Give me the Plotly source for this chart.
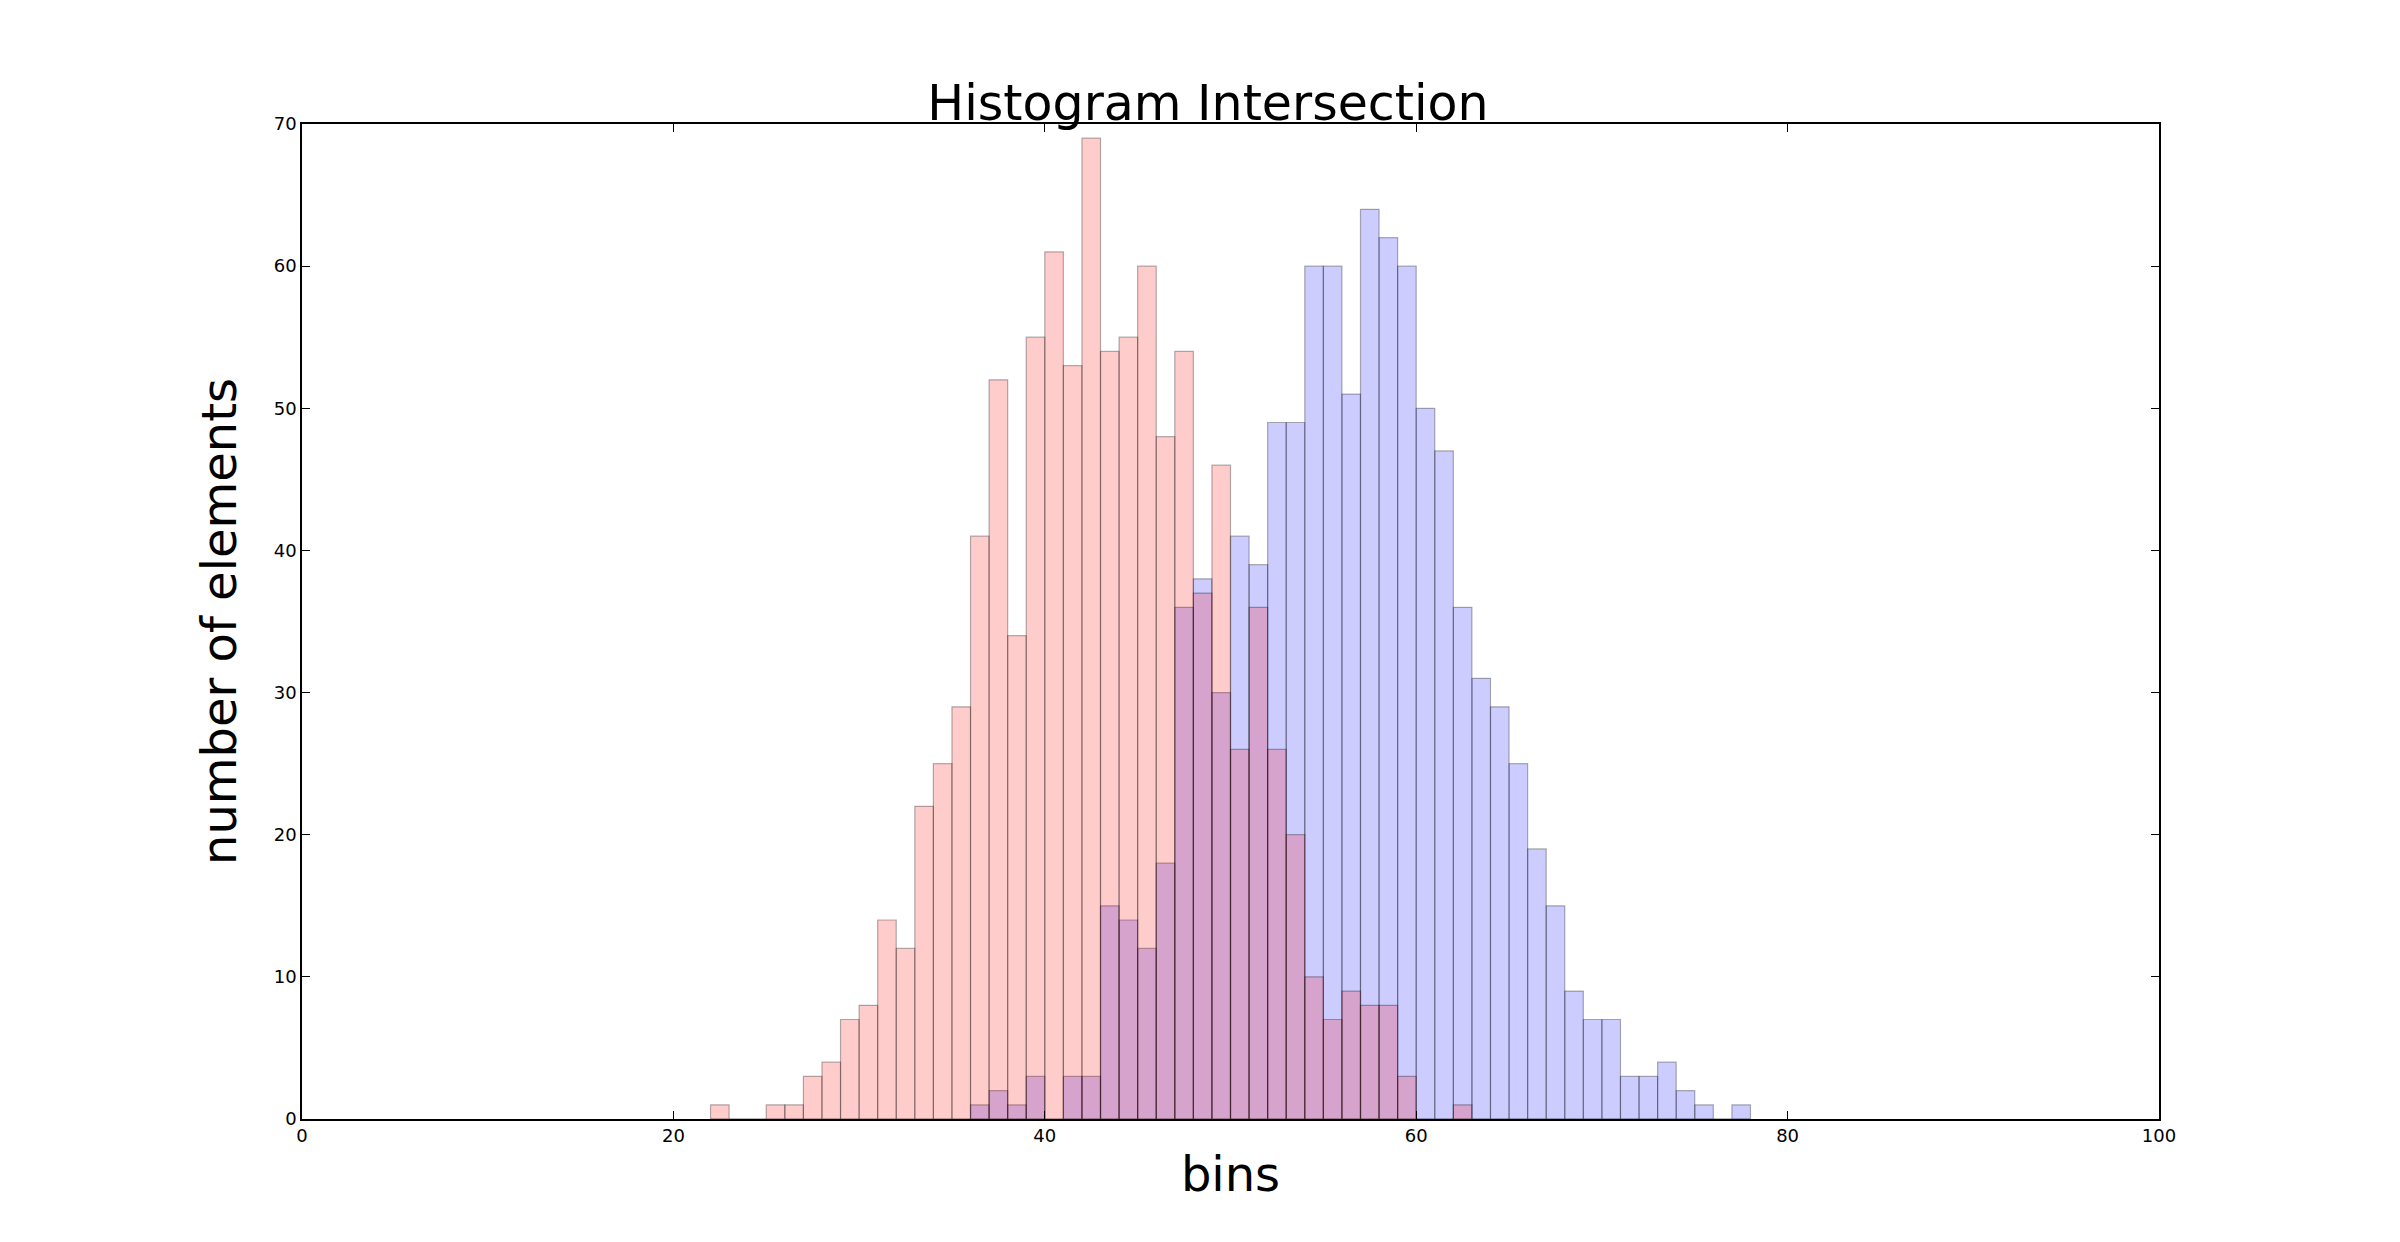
import plotly.graph_objects as go

bins = list(range(22, 78))
red = {22:1,25:1,26:1,27:3,28:4,29:7,30:8,31:14,32:12,33:22,34:25,35:29,36:41,37:52,38:34,
       39:55,40:61,41:53,42:69,43:54,44:55,45:60,46:48,47:54,48:37,49:46,50:26,51:36,52:26,
       53:20,54:10,55:7,56:9,57:8,58:8,59:3,62:1}
blue = {36:1,37:2,38:1,39:3,41:3,42:3,43:15,44:14,45:12,46:18,47:36,48:38,49:30,50:41,51:39,
        52:49,53:49,54:60,55:60,56:51,57:64,58:62,59:60,60:50,61:47,62:36,63:31,64:29,65:25,
        66:19,67:15,68:9,69:7,70:7,71:3,72:3,73:4,74:2,75:1,77:1}
red_vals = [red.get(b, 0) for b in bins]
blue_vals = [blue.get(b, 0) for b in bins]
centers = [b + 0.5 for b in bins]

fig = go.Figure()
fig.add_bar(x=centers, y=blue_vals, width=1, marker=dict(color="rgba(0,0,255,0.2)",
            line=dict(color="rgba(0,0,0,0.3)", width=1.2)))
fig.add_bar(x=centers, y=red_vals, width=1, marker=dict(color="rgba(255,0,0,0.2)",
            line=dict(color="rgba(0,0,0,0.3)", width=1.2)))

ax = dict(showgrid=False, zeroline=False, showline=True, linecolor="black", linewidth=1.5,
          mirror="ticks", ticks="inside", ticklen=8, tickcolor="black",
          tickfont=dict(size=18, color="black"))
fig.update_layout(
    barmode="overlay", showlegend=False, width=2400, height=1242,
    paper_bgcolor="white", plot_bgcolor="white",
    font=dict(family="DejaVu Sans", color="black"),
    margin=dict(l=294, r=249, t=116, b=131),
    title=dict(text="Histogram Intersection", x=0.5, xanchor="center", y=1, yref="paper",
               yanchor="bottom", pad=dict(b=4), font=dict(size=49)),
    xaxis=dict(range=[0, 100], dtick=20, title=dict(text="bins", font=dict(size=48), standoff=12), **ax),
    yaxis=dict(range=[0, 70], dtick=10, title=dict(text="number of elements", font=dict(size=48), standoff=22), **ax),
)
fig.write_html("out.html")
